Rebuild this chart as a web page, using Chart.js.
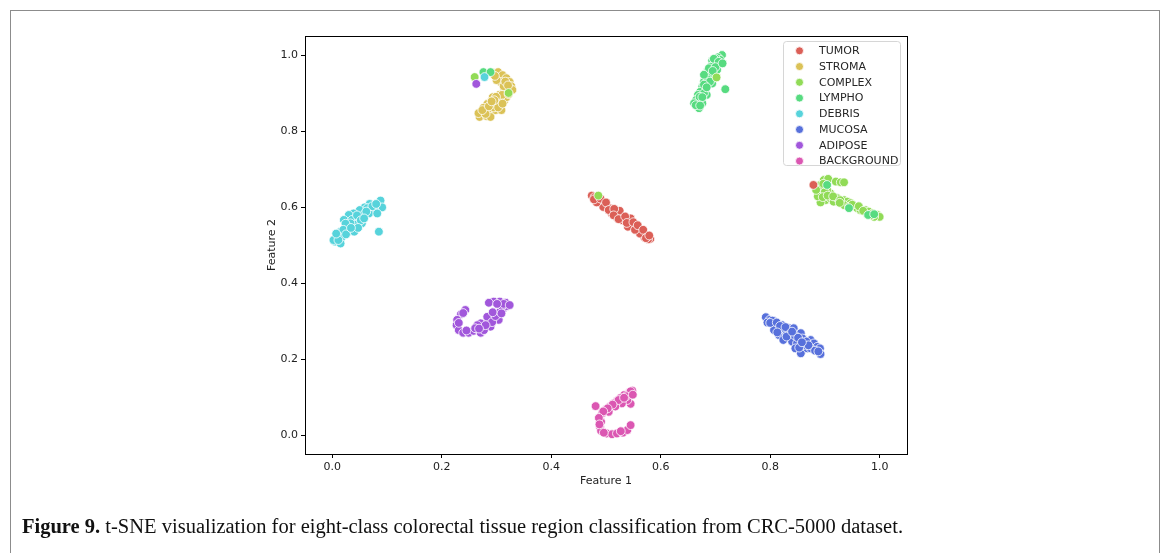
<!DOCTYPE html>
<html>
<head>
<meta charset="utf-8">
<script src="https://cdn.jsdelivr.net/npm/chart.js@4.4.0/dist/chart.umd.min.js"></script>
<style>
  body { margin: 0; background: #fff; }
  #frame { position: absolute; left: 10px; top: 10px; width: 1148px; height: 600px; border: 1px solid #8c8c8c; }
  #wrap { position: absolute; left: 0; top: 0; width: 1168px; height: 553px; }
  #caption { position: absolute; left: 22px; top: 515px; font-family: "Liberation Serif", serif; font-size: 20.5px;
             white-space: nowrap; transform-origin: 0 0; color: #111; }
</style>
</head>
<body>
<div id="frame"></div>
<div id="wrap"><canvas id="chart_canvas" width="1168" height="553"></canvas></div>
<div id="caption"><b>Figure 9.</b> t-SNE visualization for eight-class colorectal tissue region classification from CRC-5000 dataset.</div>
<script>
const classNames = ["TUMOR", "STROMA", "COMPLEX", "LYMPHO", "DEBRIS", "MUCOSA", "ADIPOSE", "BACKGROUND"];
const classColors = ["#db5f57", "#dbc257", "#91db57", "#57db80", "#57d3db", "#5770db", "#a157db", "#db57b2"];
const xTicks = [0.0, 0.2, 0.4, 0.6, 0.8, 1.0];
const yTicks = [0.0, 0.2, 0.4, 0.6, 0.8, 1.0];

const tumorPts = [
  [0.474,0.630],[0.479,0.626],[0.484,0.621],[0.488,0.617],[0.493,0.613],[0.498,0.606],[0.503,0.600],
  [0.508,0.596],[0.512,0.591],[0.517,0.587],[0.522,0.580],[0.527,0.575],[0.532,0.572],[0.537,0.566],
  [0.542,0.560],[0.547,0.555],[0.551,0.550],[0.556,0.545],[0.561,0.540],[0.566,0.534],[0.571,0.528],
  [0.576,0.522],[0.581,0.516],[0.577,0.515],[0.570,0.520],[0.520,0.572],[0.510,0.584],[0.495,0.600],
  [0.483,0.612],[0.530,0.565],[0.545,0.570],[0.540,0.548],[0.525,0.590],[0.562,0.530],
  [0.478,0.620],[0.490,0.622],[0.500,0.612],[0.505,0.592],[0.515,0.595],[0.514,0.578],[0.523,0.568],
  [0.535,0.575],[0.538,0.558],[0.550,0.560],[0.553,0.540],[0.558,0.552],[0.568,0.540],[0.573,0.518],
  [0.579,0.525]
];
const stromaPts = [
  [0.294,0.953],[0.303,0.955],[0.311,0.947],[0.318,0.939],[0.324,0.929],[0.327,0.918],[0.320,0.908],
  [0.313,0.903],[0.305,0.895],[0.302,0.882],[0.296,0.874],[0.291,0.866],[0.285,0.858],[0.278,0.850],
  [0.272,0.842],[0.269,0.837],[0.282,0.839],[0.289,0.847],[0.298,0.855],[0.307,0.866],[0.314,0.879],
  [0.307,0.887],[0.300,0.871],[0.293,0.889],[0.316,0.913],[0.329,0.908],[0.307,0.929],[0.300,0.934],
  [0.313,0.918],[0.283,0.871],[0.276,0.861],[0.289,0.837],[0.267,0.847],[0.318,0.889],[0.309,0.855],
  [0.297,0.945],[0.316,0.930],[0.321,0.920],[0.310,0.895],[0.299,0.890],[0.295,0.862],[0.280,0.845],
  [0.274,0.855],[0.286,0.865],[0.303,0.862],[0.311,0.872],[0.296,0.881],[0.322,0.897],[0.291,0.878]
];
const complexPts = [
  [0.898,0.671],[0.906,0.674],[0.920,0.667],[0.929,0.665],[0.935,0.665],[0.886,0.653],[0.892,0.658],
  [0.895,0.645],[0.889,0.636],[0.898,0.632],[0.892,0.623],[0.901,0.618],[0.892,0.612],[0.910,0.623],
  [0.916,0.614],[0.923,0.623],[0.935,0.618],[0.941,0.614],[0.947,0.610],[0.935,0.605],[0.944,0.601],
  [0.953,0.601],[0.959,0.597],[0.965,0.592],[0.974,0.592],[0.980,0.588],[0.987,0.583],[0.996,0.579],
  [1.000,0.574],[0.990,0.574],[0.978,0.579],[0.910,0.636],[0.904,0.645],
  [0.893,0.648],[0.900,0.640],[0.887,0.628],[0.896,0.626],[0.905,0.630],[0.915,0.628],[0.928,0.618],
  [0.950,0.606],[0.962,0.602],[0.970,0.590],[0.985,0.578],[0.927,0.611],[0.897,0.661],[0.884,0.645]
];
const lymphoPts = [
  [0.712,1.000],[0.704,0.994],[0.694,0.985],[0.709,0.987],[0.698,0.978],[0.691,0.969],[0.685,0.956],
  [0.688,0.947],[0.682,0.939],[0.679,0.930],[0.676,0.917],[0.682,0.912],[0.672,0.903],[0.668,0.895],
  [0.665,0.882],[0.673,0.882],[0.661,0.873],[0.667,0.864],[0.676,0.873],[0.670,0.860],[0.694,0.925],
  [0.703,0.961],[0.691,0.952],[0.684,0.895],[0.688,0.965],[0.700,0.991],[0.679,0.899],[0.718,0.910],
  [0.697,0.990],[0.706,0.982],[0.700,0.968],[0.695,0.958],[0.686,0.936],[0.690,0.930],[0.679,0.922],
  [0.684,0.915],[0.671,0.890],[0.676,0.889],[0.664,0.868],[0.672,0.867],[0.679,0.948],[0.713,0.978]
];
const debrisPts = [
  [0.088,0.617],[0.091,0.599],[0.068,0.608],[0.059,0.599],[0.050,0.592],[0.076,0.597],[0.067,0.583],
  [0.039,0.583],[0.030,0.579],[0.021,0.566],[0.036,0.566],[0.048,0.570],[0.057,0.579],[0.054,0.557],
  [0.042,0.553],[0.027,0.548],[0.015,0.535],[0.030,0.535],[0.009,0.522],[0.018,0.522],[0.005,0.509],
  [0.015,0.504],[0.039,0.539],[0.082,0.583],[0.085,0.535],[0.064,0.597],[0.040,0.535],[0.002,0.513],
  [0.073,0.602],[0.080,0.608],[0.062,0.588],[0.045,0.578],[0.052,0.565],[0.033,0.557],[0.024,0.556],
  [0.047,0.545],[0.020,0.540],[0.011,0.513],[0.025,0.528],[0.034,0.545],[0.058,0.570],[0.007,0.530]
];
const mucosaPts = [
  [0.792,0.310],[0.799,0.303],[0.806,0.301],[0.795,0.296],[0.810,0.289],[0.822,0.289],[0.816,0.278],
  [0.807,0.276],[0.825,0.276],[0.834,0.281],[0.843,0.281],[0.837,0.268],[0.816,0.263],[0.824,0.250],
  [0.840,0.246],[0.856,0.268],[0.859,0.254],[0.849,0.241],[0.846,0.228],[0.856,0.215],[0.868,0.228],
  [0.874,0.250],[0.880,0.241],[0.886,0.232],[0.891,0.228],[0.892,0.213],[0.862,0.237],[0.874,0.228],
  [0.804,0.301],[0.831,0.268],
  [0.800,0.295],[0.812,0.296],[0.818,0.287],[0.828,0.284],[0.813,0.270],[0.830,0.259],[0.845,0.262],
  [0.851,0.256],[0.840,0.272],[0.866,0.246],[0.870,0.236],[0.882,0.222],[0.853,0.230],[0.888,0.220],
  [0.858,0.244]
];
const adiposePts = [
  [0.243,0.329],[0.235,0.318],[0.228,0.303],[0.227,0.289],[0.231,0.276],[0.239,0.269],[0.249,0.269],
  [0.258,0.274],[0.266,0.278],[0.271,0.269],[0.275,0.285],[0.282,0.294],[0.288,0.303],[0.295,0.307],
  [0.300,0.318],[0.307,0.325],[0.313,0.333],[0.319,0.339],[0.317,0.348],[0.306,0.351],[0.295,0.351],
  [0.286,0.348],[0.310,0.339],[0.304,0.303],[0.289,0.285],[0.283,0.311],[0.271,0.294],[0.265,0.289],
  [0.239,0.321],[0.231,0.295],[0.245,0.275],[0.261,0.281],[0.277,0.276],[0.292,0.297],[0.298,0.313],
  [0.313,0.345],[0.301,0.345],[0.293,0.323],[0.280,0.289],[0.268,0.280],[0.324,0.342],[0.309,0.320]
];
const backgroundPts = [
  [0.548,0.117],[0.542,0.111],[0.533,0.105],[0.526,0.097],[0.520,0.090],[0.514,0.083],[0.507,0.075],
  [0.499,0.066],[0.493,0.057],[0.481,0.076],[0.545,0.082],[0.491,0.035],[0.489,0.022],[0.491,0.011],
  [0.501,0.004],[0.511,0.002],[0.520,0.004],[0.531,0.006],[0.539,0.013],[0.545,0.026],[0.539,0.092],
  [0.529,0.083],[0.517,0.075],[0.505,0.061],
  [0.545,0.115],[0.537,0.102],[0.523,0.092],[0.512,0.080],[0.503,0.070],[0.495,0.062],[0.487,0.045],
  [0.488,0.028],[0.496,0.006],[0.527,0.010],[0.533,0.098],[0.549,0.106]
];
// points that sit inside another class's cluster
const strayPts = [
  [0.260,0.942],[0.322,0.900],[0.276,0.955],[0.289,0.955],[0.278,0.942],[0.263,0.924],
  [0.702,0.941],[0.879,0.658],[0.904,0.658],[0.944,0.597],[0.979,0.579],[0.990,0.581],[0.486,0.630]
];
const strayClass = [2, 2, 3, 3, 4, 6, 2, 0, 3, 3, 3, 3, 2];

const clusterPts = [tumorPts, stromaPts, complexPts, lymphoPts, debrisPts, mucosaPts, adiposePts, backgroundPts];

const toXY = pts => pts.map(p => ({ x: p[0], y: p[1] }));

const datasets = classNames.map((name, i) => ({
  label: name,
  data: toXY(clusterPts[i]),
  backgroundColor: classColors[i],
  borderColor: "#ffffff",
  borderWidth: 0.8,
  pointRadius: 4.4,
  pointHoverRadius: 4.4,
  order: 1
}));
datasets.push({
  label: "stray",
  data: toXY(strayPts),
  backgroundColor: strayClass.map(i => classColors[i]),
  borderColor: "#ffffff",
  borderWidth: 0.8,
  pointRadius: 4.4,
  pointHoverRadius: 4.4,
  order: 0
});

const tickFont = { family: "DejaVu Sans", size: 11 };

const boxPlugin = {
  id: "box",
  afterDraw(chart) {
    const { ctx, chartArea: a } = chart;
    ctx.save();
    ctx.strokeStyle = "#000";
    ctx.lineWidth = 1;
    ctx.strokeRect(Math.round(a.left) + 0.5, Math.round(a.top) + 0.5,
                   Math.round(a.right - a.left), Math.round(a.bottom - a.top));
    ctx.restore();
  }
};

const legendPlugin = {
  id: "sideLegend",
  afterDraw(chart) {
    const ctx = chart.ctx;
    ctx.save();
    ctx.beginPath();
    ctx.roundRect(783.5, 41.5, 117, 124, 3);
    ctx.fillStyle = "rgba(255,255,255,0.8)";
    ctx.fill();
    ctx.strokeStyle = "#d6d6d6";
    ctx.lineWidth = 1;
    ctx.stroke();
    ctx.font = '11px "DejaVu Sans"';
    ctx.textBaseline = "middle";
    classNames.forEach((name, i) => {
      const y = 50.8 + i * 15.75;
      ctx.beginPath();
      ctx.arc(799.5, y, 4, 0, Math.PI * 2);
      ctx.fillStyle = classColors[i];
      ctx.fill();
      ctx.strokeStyle = "#fff";
      ctx.lineWidth = 0.8;
      ctx.stroke();
      ctx.fillStyle = "#262626";
      ctx.fillText(name, 819, y + 0.5);
    });
    ctx.restore();
  }
};

new Chart(document.getElementById("chart_canvas").getContext("2d"), {
  type: "scatter",
  data: { datasets: datasets },
  options: {
    responsive: false,
    animation: false,
    events: [],
    layout: { padding: { left: 258, top: 36, right: 261, bottom: 59 } },
    plugins: { legend: { display: false }, tooltip: { enabled: false } },
    scales: {
      x: {
        type: "linear",
        min: -0.05, max: 1.05,
        afterFit(s) { s.height = 40; },
        afterBuildTicks(s) { s.ticks = xTicks.map(v => ({ value: v })); },
        grid: { drawOnChartArea: false, drawTicks: true, tickLength: 4, tickColor: "#000" },
        border: { display: true, color: "#000", width: 1 },
        ticks: { font: tickFont, color: "#222", padding: 3, maxRotation: 0, callback: v => v.toFixed(1) },
        title: { display: true, text: "Feature 1", font: tickFont, color: "#222", padding: { top: 0, bottom: 6 } }
      },
      y: {
        type: "linear",
        min: -0.05, max: 1.05,
        afterFit(s) { s.width = 47; },
        afterBuildTicks(s) { s.ticks = yTicks.map(v => ({ value: v })); },
        grid: { drawOnChartArea: false, drawTicks: true, tickLength: 4, tickColor: "#000" },
        border: { display: true, color: "#000", width: 1 },
        ticks: { font: tickFont, color: "#222", padding: 3, callback: v => v.toFixed(1) },
        title: { display: true, text: "Feature 2", font: tickFont, color: "#222", padding: { top: 8, bottom: 0 } }
      }
    }
  },
  plugins: [boxPlugin, legendPlugin]
});

const cap = document.getElementById("caption");
const capW = cap.getBoundingClientRect().width;
cap.style.transform = "scaleX(" + (881 / capW).toFixed(4) + ")";
</script>
</body>
</html>
